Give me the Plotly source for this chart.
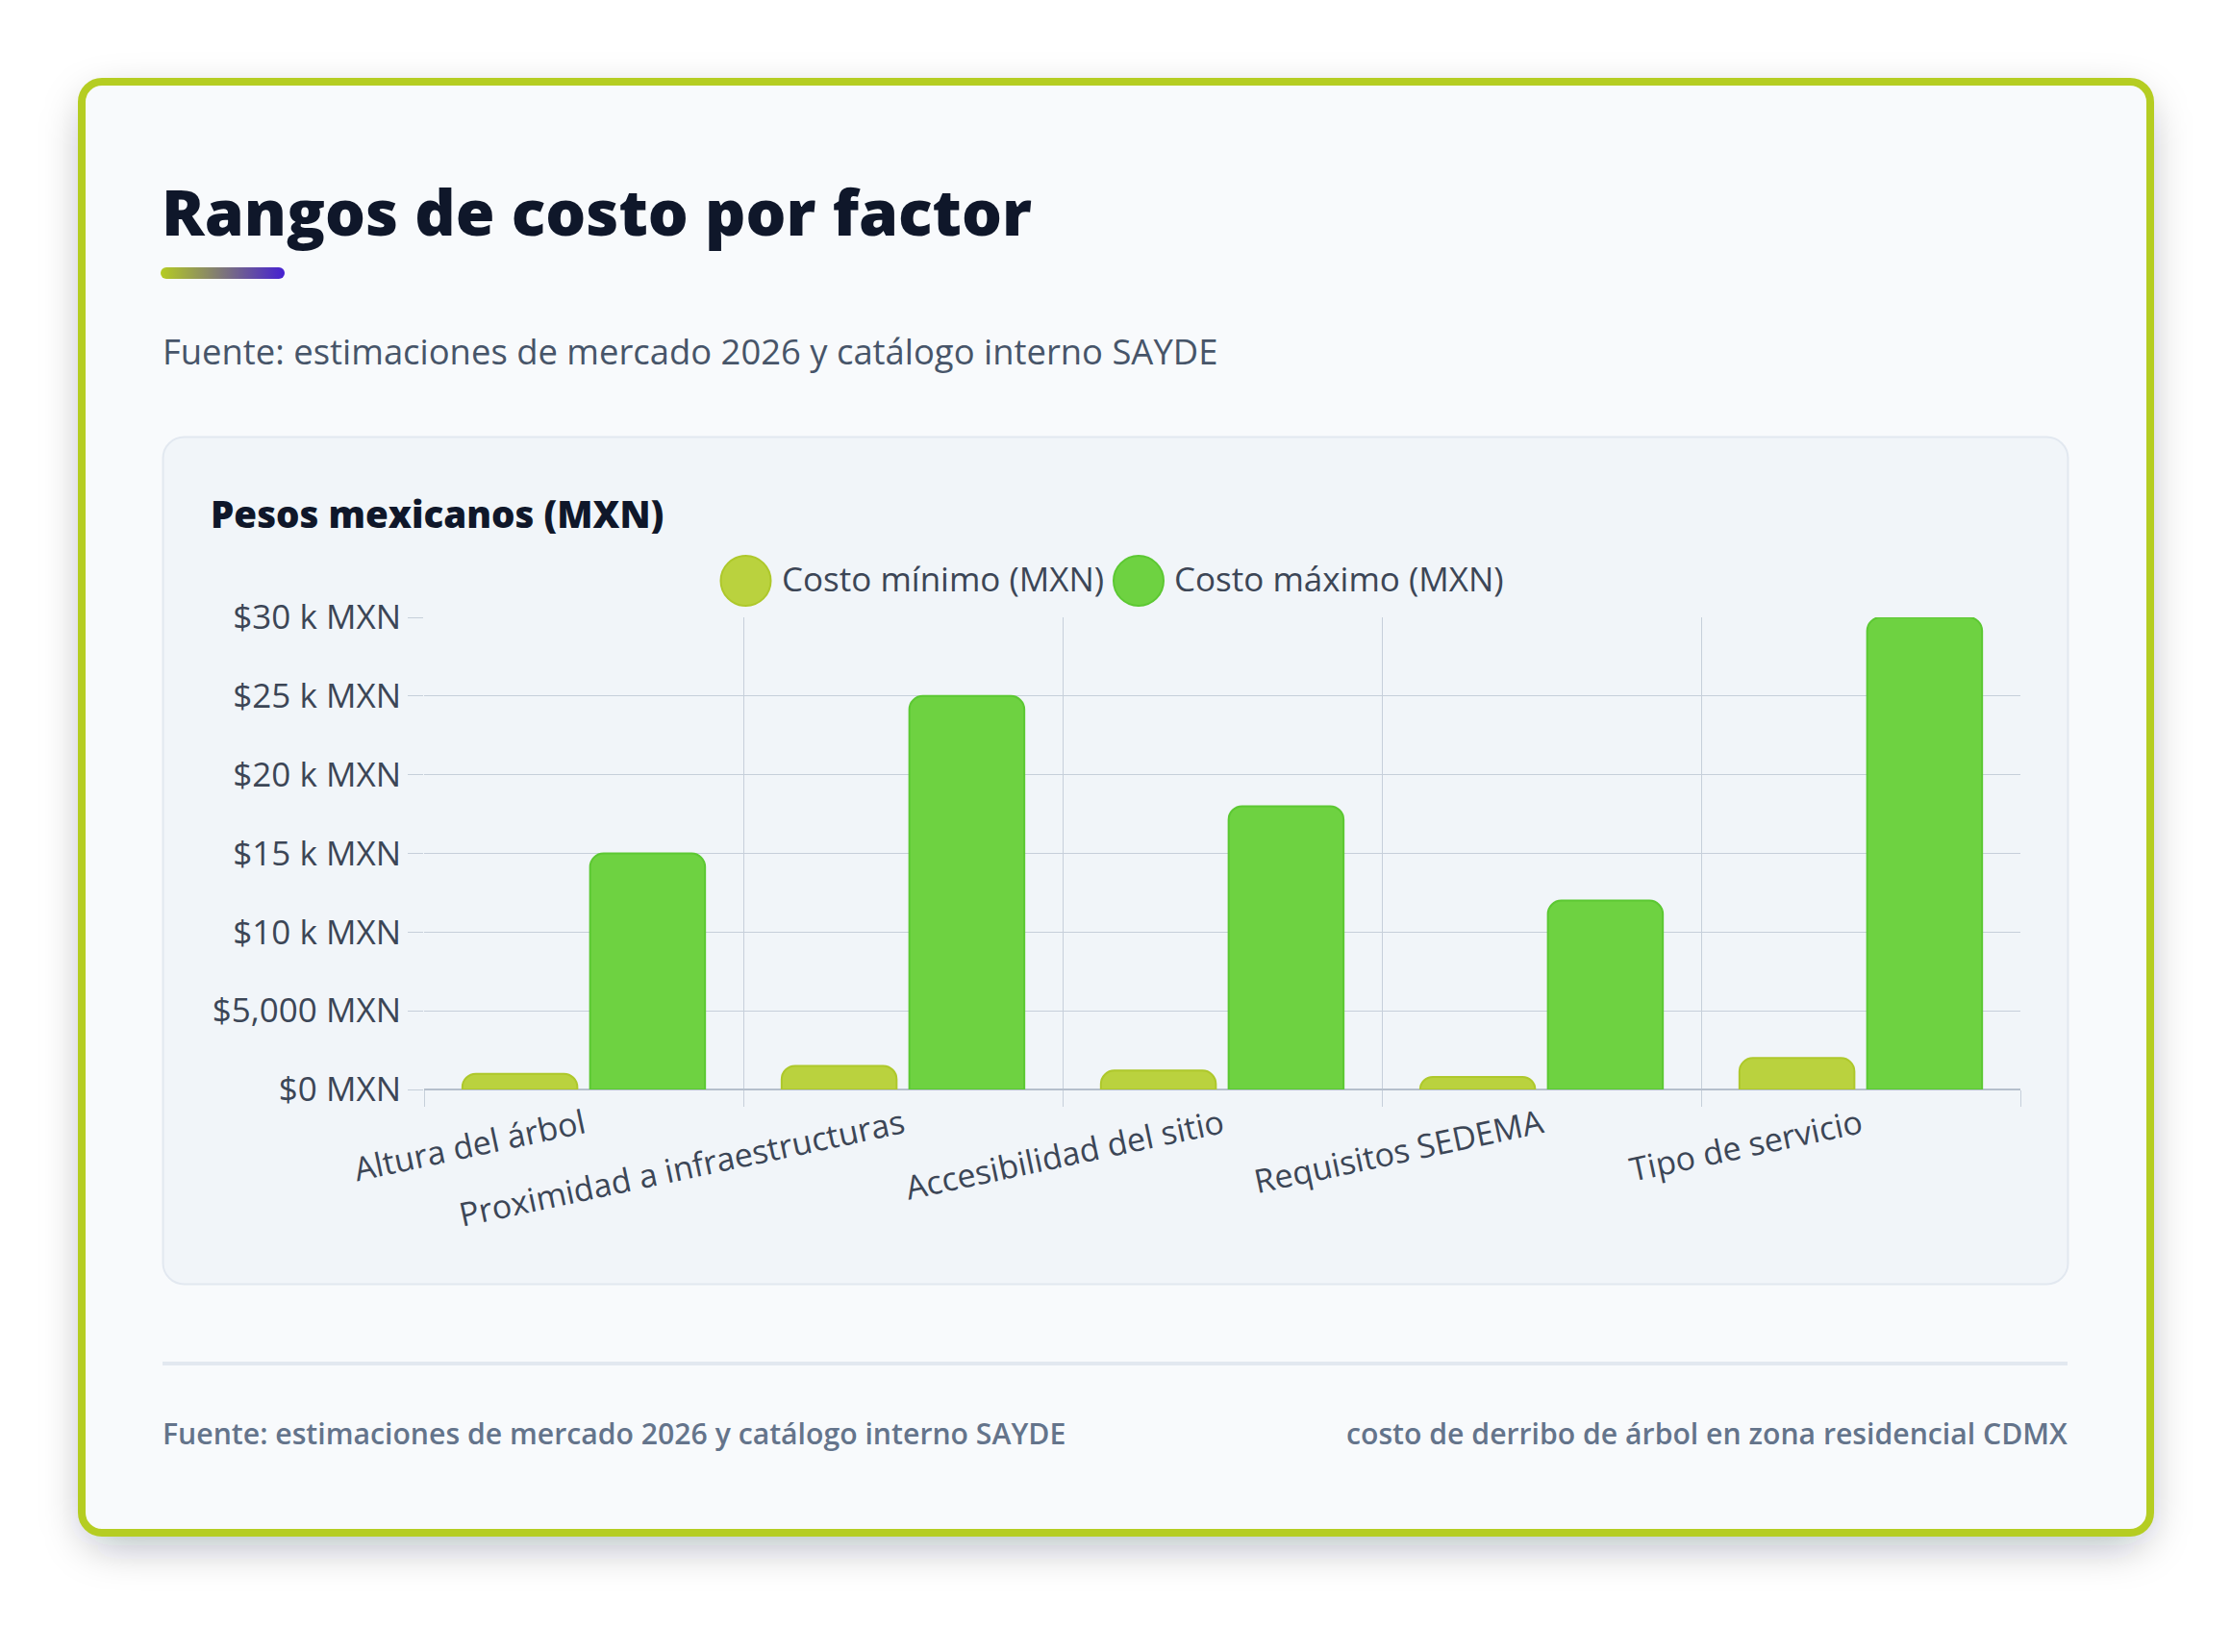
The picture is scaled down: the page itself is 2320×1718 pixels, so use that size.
import base64
import plotly.graph_objects as go

# ---------------- data ----------------
categories = ["Altura del árbol", "Proximidad a infraestructuras", "Accesibilidad del sitio",
              "Requisitos SEDEMA", "Tipo de servicio"]
costo_minimo = [1000, 1500, 1200, 800, 2000]
costo_maximo = [15000, 25000, 18000, 12000, 30000]
series_names = ["Costo mínimo (MXN)", "Costo máximo (MXN)"]
y_tick_values = [0, 5000, 10000, 15000, 20000, 25000, 30000]
y_tick_labels = ["$0 MXN", "$5,000 MXN", "$10 k MXN", "$15 k MXN", "$20 k MXN", "$25 k MXN", "$30 k MXN"]
title_text = "Rangos de costo por factor"
subtitle_text = "Fuente: estimaciones de mercado 2026 y catálogo interno SAYDE"
axis_title_text = "Pesos mexicanos (MXN)"
footer_left_text = "Fuente: estimaciones de mercado 2026 y catálogo interno SAYDE"
footer_right_text = "costo de derribo de árbol en zona residencial CDMX"

# ---------------- layout geometry (pixels) ----------------
W, H = 2320, 1718
PL, PR, PT, PB = 441, 2101, 642, 1133

FONT = "Open Sans"
MIN_FILL, MIN_LINE = "#bad23e", "#aec82b"
MAX_FILL, MAX_LINE = "#6ed241", "#5cc832"
GRID = "#c6cfda"
TICK_COLOR = "#3c4656"


def px(X):
    return (X - PL) / (PR - PL)


def py(Y):
    return (PB - Y) / (PB - PT)


# decorative background (shadow, card, panel, divider, accent bar)
svg = f'''<svg xmlns="http://www.w3.org/2000/svg" width="{W}" height="{H}" viewBox="0 0 {W} {H}">
<defs>
<filter id="sh" x="0" y="0" width="{W}" height="{H}" filterUnits="userSpaceOnUse">
<feGaussianBlur stdDeviation="22"/>
</filter>
<linearGradient id="g" x1="0" y1="0" x2="1" y2="0">
<stop offset="0" stop-color="#b5cc22"/><stop offset="1" stop-color="#4620d2"/>
</linearGradient>
</defs>
<rect x="0" y="0" width="{W}" height="{H}" fill="#ffffff"/>
<rect x="88" y="102" width="2145" height="1505" rx="26" fill="#0f172a" fill-opacity="0.30" filter="url(#sh)"/>
<rect x="85" y="85" width="2151" height="1509" rx="21" fill="#f8fafc" stroke="#b5cd22" stroke-width="8"/>
<rect x="169.5" y="454.5" width="1981" height="881" rx="22" fill="#f1f5f9" stroke="#e2e8f0" stroke-width="2"/>
<rect x="169" y="1416" width="1981" height="4" fill="#e2e8f0"/>
<rect x="167" y="278" width="129" height="12" rx="6" fill="url(#g)"/>
</svg>'''
svg_uri = "data:image/svg+xml;base64," + base64.b64encode(svg.encode("utf-8")).decode("ascii")

fig = go.Figure()
fig.add_bar(x=categories, y=costo_minimo, name=series_names[0], showlegend=False,
            marker=dict(color=MIN_FILL, line=dict(color=MIN_LINE, width=2), cornerradius=14))
fig.add_bar(x=categories, y=costo_maximo, name=series_names[1], showlegend=False,
            marker=dict(color=MAX_FILL, line=dict(color=MAX_LINE, width=2), cornerradius=14))

fig.update_layout(
    width=W, height=H,
    margin=dict(l=PL, r=W - PR, t=PT, b=H - PB, pad=0, autoexpand=False),
    paper_bgcolor="#ffffff", plot_bgcolor="rgba(0,0,0,0)",
    barmode="group", bargap=0.2, bargroupgap=0.1,
    showlegend=False,
    font=dict(family=FONT, color=TICK_COLOR),
    images=[dict(source=svg_uri, xref="paper", yref="paper", x=px(0), y=py(0),
                 sizex=W / (PR - PL), sizey=H / (PB - PT), xanchor="left", yanchor="top",
                 sizing="stretch", layer="below")],
)

fig.update_xaxes(type="category", range=[-0.5, len(categories) - 0.5], tickson="boundaries",
                 ticks="outside", ticklen=17, tickcolor=GRID, tickwidth=1,
                 showgrid=True, gridcolor=GRID, gridwidth=1, showline=False, zeroline=False,
                 tickangle=-12, ticklabelstandoff=10,
                 tickfont=dict(family=FONT, size=34, color=TICK_COLOR))
fig.update_yaxes(range=[0, 30000], tickmode="array", tickvals=y_tick_values, ticktext=y_tick_labels,
                 ticks="outside", ticklen=16, tickcolor=GRID, tickwidth=1,
                 showgrid=True, gridcolor=GRID, gridwidth=1, showline=False,
                 zeroline=True, zerolinecolor="#b5bfcc", zerolinewidth=2,
                 tickfont=dict(family=FONT, size=35, color=TICK_COLOR))

annotations = [
    dict(text=title_text, x=px(166), y=py(219), xanchor="left", yanchor="middle",
         font=dict(family=FONT, size=66, color="#0f172a", weight=800)),
    dict(text=subtitle_text, x=px(167), y=py(365), xanchor="left", yanchor="middle",
         font=dict(family=FONT, size=36.4, color="#475569")),
    dict(text=axis_title_text, x=px(217), y=py(534), xanchor="left", yanchor="middle",
         font=dict(family=FONT, size=38.5, color="#0f172a", weight=800)),
    dict(text=footer_left_text, x=px(167), y=py(1490), xanchor="left", yanchor="middle",
         font=dict(family=FONT, size=30.2, color="#64748b", weight=600)),
    dict(text=footer_right_text, x=px(2152), y=py(1490), xanchor="right", yanchor="middle",
         font=dict(family=FONT, size=30.2, color="#64748b", weight=600)),
]

# custom legend (large circular markers)
legend_items = [(series_names[0], MIN_FILL, MIN_LINE, 775.5, 811),
                (series_names[1], MAX_FILL, MAX_LINE, 1184, 1219)]
shapes = []
for name, fill, line, cx, tx in legend_items:
    shapes.append(dict(type="circle", xref="paper", yref="paper",
                       x0=px(cx - 26), x1=px(cx + 26), y0=py(604 + 26), y1=py(604 - 26),
                       fillcolor=fill, line=dict(color=line, width=2), layer="above"))
    annotations.append(dict(text=name, x=px(tx), y=py(601), xanchor="left", yanchor="middle",
                            font=dict(family=FONT, size=35, color=TICK_COLOR)))

for a in annotations:
    a.update(xref="paper", yref="paper", showarrow=False)
fig.update_layout(annotations=annotations, shapes=shapes)

fig.write_html("out.html")
